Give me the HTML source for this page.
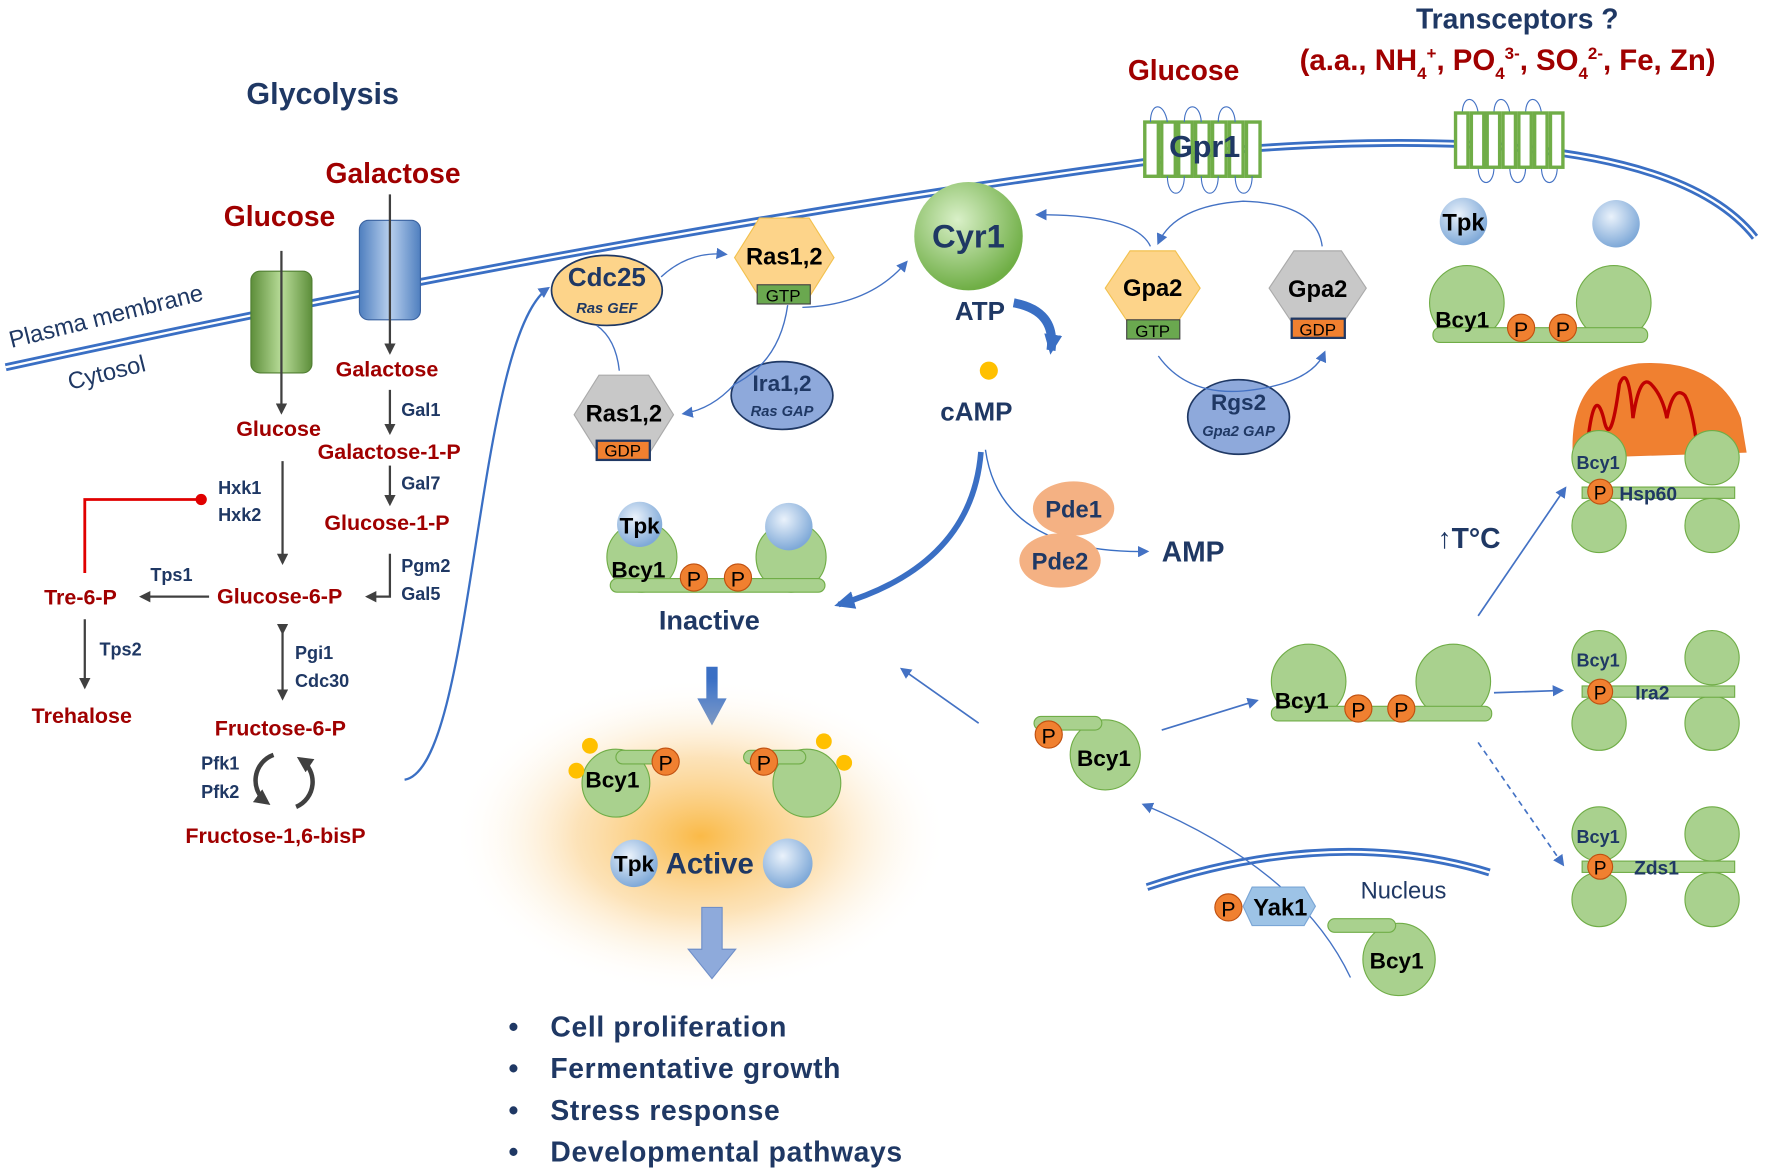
<!DOCTYPE html>
<html><head><meta charset="utf-8"><style>
html,body{margin:0;padding:0;background:#fff;}
svg{display:block;font-family:"Liberation Sans",sans-serif;font-weight:bold;}
</style></head><body>
<svg width="1772" height="1173" viewBox="0 0 1568 1038" xmlns="http://www.w3.org/2000/svg">
<defs>
<radialGradient id="glow" cx="50%" cy="50%" r="50%"><stop offset="0" stop-color="#f9b233" stop-opacity="0.9"/><stop offset="0.5" stop-color="#fbd08a" stop-opacity="0.6"/><stop offset="1" stop-color="#fff" stop-opacity="0"/></radialGradient>
<radialGradient id="ball" cx="40%" cy="35%" r="65%"><stop offset="0" stop-color="#eaf2fb"/><stop offset="1" stop-color="#7fa9d8"/></radialGradient>
<radialGradient id="cyr" cx="40%" cy="35%" r="65%"><stop offset="0" stop-color="#d9f0c8"/><stop offset="1" stop-color="#6fae45"/></radialGradient>
<linearGradient id="gch" x1="0" x2="1"><stop offset="0" stop-color="#5d8e3a"/><stop offset="0.5" stop-color="#b8dc98"/><stop offset="1" stop-color="#5d8e3a"/></linearGradient>
<linearGradient id="bch" x1="0" x2="1"><stop offset="0" stop-color="#4f7fbf"/><stop offset="0.5" stop-color="#b8d0ee"/><stop offset="1" stop-color="#4f7fbf"/></linearGradient>
<marker id="a" markerUnits="userSpaceOnUse" markerWidth="10" markerHeight="10" refX="8" refY="5" orient="auto"><path d="M0,0 L10,5 L0,10z" fill="#4472c4"/></marker>
<marker id="k" markerUnits="userSpaceOnUse" markerWidth="10" markerHeight="10" refX="8" refY="5" orient="auto"><path d="M0,0 L10,5 L0,10z" fill="#404040"/></marker>
<marker id="big" markerUnits="userSpaceOnUse" markerWidth="20" markerHeight="20" refX="14" refY="10" orient="auto"><path d="M0,2 L18,10 L0,18z" fill="#3a6fc4"/></marker>
<marker id="bk" markerUnits="userSpaceOnUse" markerWidth="14" markerHeight="14" refX="10" refY="7" orient="auto"><path d="M0,0 L14,7 L0,14z" fill="#404040"/></marker>
</defs>

<path d="M5,325 Q600,195 1100,132 Q1470,105 1553,210" fill="none" stroke="#3a6fc4" stroke-width="7"/>
<path d="M5,325 Q600,195 1100,132 Q1470,105 1553,210" fill="none" stroke="#fff" stroke-width="2"/>
<text x="10" y="308" font-size="21" fill="#1f3864" font-weight="normal" transform="rotate(-14 10 308)">Plasma membrane</text>
<text x="62" y="345" font-size="21" fill="#1f3864" font-weight="normal" transform="rotate(-14 62 345)">Cytosol</text>

<text x="218" y="92" font-size="27" fill="#1f3864">Glycolysis</text>
<text x="288" y="162" font-size="25" fill="#a00000">Galactose</text>
<text x="198" y="200" font-size="25" fill="#a00000">Glucose</text>
<rect x="222" y="240" width="54" height="90" rx="8" fill="url(#gch)" stroke="#507e32"/>
<rect x="318" y="195" width="54" height="88" rx="8" fill="url(#bch)" stroke="#3a62a0"/>
<line x1="249" y1="222" x2="249" y2="365" stroke="#404040" stroke-width="2" marker-end="url(#k)"/>
<line x1="345" y1="172" x2="345" y2="312" stroke="#404040" stroke-width="2" marker-end="url(#k)"/>
<g font-size="19" fill="#a00000">
<text x="297" y="333">Galactose</text>
<text x="209" y="386">Glucose</text>
<text x="281" y="406">Galactose-1-P</text>
<text x="287" y="469">Glucose-1-P</text>
<text x="192" y="534">Glucose-6-P</text>
<text x="39" y="535">Tre-6-P</text>
<text x="28" y="640">Trehalose</text>
<text x="190" y="651">Fructose-6-P</text>
<text x="164" y="746">Fructose-1,6-bisP</text>
</g>
<g font-size="16" fill="#1f3864">
<text x="355" y="368">Gal1</text>
<text x="355" y="433">Gal7</text>
<text x="355" y="506">Pgm2</text>
<text x="355" y="531">Gal5</text>
<text x="193" y="437">Hxk1</text>
<text x="193" y="461">Hxk2</text>
<text x="133" y="514">Tps1</text>
<text x="88" y="580">Tps2</text>
<text x="261" y="583">Pgi1</text>
<text x="261" y="608">Cdc30</text>
<text x="178" y="681">Pfk1</text>
<text x="178" y="706">Pfk2</text>
</g>
<g stroke="#404040" stroke-width="2" fill="none">
<line x1="345" y1="345" x2="345" y2="383" marker-end="url(#k)"/>
<line x1="345" y1="412" x2="345" y2="446" marker-end="url(#k)"/>
<path d="M345,490 L345,528 L325,528" marker-end="url(#k)"/>
<line x1="250" y1="408" x2="250" y2="498" marker-end="url(#k)"/>
<line x1="185" y1="528" x2="125" y2="528" marker-end="url(#k)"/>
<line x1="75" y1="548" x2="75" y2="608" marker-end="url(#k)"/>
<line x1="250" y1="560" x2="250" y2="618" marker-end="url(#k)" marker-start="url(#k)"/>
<path d="M242,668 A24,24 0 0 0 236,710" stroke-width="4" marker-end="url(#bk)"/>
<path d="M262,714 A24,24 0 0 0 266,672" stroke-width="4" marker-end="url(#bk)"/>
</g>
<path d="M75,507 L75,442 L175,442" stroke="#e00000" stroke-width="2.5" fill="none"/>
<circle cx="178" cy="442" r="5" fill="#e00000"/>
<path d="M358,690 C420,680 420,300 485,255" stroke="#3a6fc4" stroke-width="2" fill="none" marker-end="url(#a)"/>

<ellipse cx="537" cy="257" rx="49" ry="31" fill="#fdd48a" stroke="#1f3864" stroke-width="1.5"/>
<text x="537" y="253" font-size="23" fill="#1f3864" text-anchor="middle">Cdc25</text>
<text x="537" y="277" font-size="13" fill="#1f3864" text-anchor="middle" font-style="italic">Ras GEF</text>
<polygon points="672,193 716,193 738,228 716,263 672,263 650,228" fill="#fdd48a" stroke="#f2c14e"/>
<text x="694" y="234" font-size="21" fill="#000" text-anchor="middle">Ras1,2</text>
<rect x="670" y="252" width="47" height="17" fill="#6aa84f" stroke="#404040"/>
<text x="693" y="267" font-size="15" fill="#000" text-anchor="middle" font-weight="normal">GTP</text>
<polygon points="530,332 574,332 596,367 574,402 530,402 508,367" fill="#c8c8c8" stroke="#aaa"/>
<text x="552" y="373" font-size="21" fill="#000" text-anchor="middle">Ras1,2</text>
<rect x="528" y="390" width="47" height="17" fill="#f08030" stroke="#1f3864" stroke-width="2"/>
<text x="551" y="404" font-size="15" fill="#000" text-anchor="middle" font-weight="normal">GDP</text>
<ellipse cx="692" cy="350" rx="45" ry="30" fill="#8ea9db" stroke="#1f3864" stroke-width="1.5"/>
<text x="692" y="346" font-size="20" fill="#1f3864" text-anchor="middle">Ira1,2</text>
<text x="692" y="368" font-size="13" fill="#1f3864" text-anchor="middle" font-style="italic">Ras GAP</text>
<g stroke="#4472c4" stroke-width="1.2" fill="none">
<path d="M585,245 Q610,222 642,225" marker-end="url(#a)"/>
<path d="M548,328 Q545,300 528,288"/>
<path d="M697,270 Q690,320 650,340 Q630,362 605,366" marker-end="url(#a)"/>
<path d="M710,272 Q770,270 802,232" marker-end="url(#a)"/>
</g>

<circle cx="857" cy="209" r="48" fill="url(#cyr)"/>
<text x="857" y="219" font-size="29" fill="#1f3864" text-anchor="middle">Cyr1</text>
<text x="845" y="283" font-size="23" fill="#1f3864">ATP</text>
<path d="M897,268 Q935,275 930,310" stroke="#3a6fc4" stroke-width="8" fill="none" marker-end="url(#big)"/>
<circle cx="875" cy="328" r="8" fill="#ffc000"/>
<text x="832" y="372" font-size="23" fill="#1f3864">cAMP</text>
<path d="M868,400 Q860,500 742,535" stroke="#3a6fc4" stroke-width="5" fill="none" marker-end="url(#big)"/>
<path d="M872,398 Q885,490 1015,488" stroke="#3a6fc4" stroke-width="1.2" fill="none" marker-end="url(#a)"/>
<ellipse cx="950" cy="450" rx="36" ry="24" fill="#f4b183"/>
<text x="950" y="458" font-size="21" fill="#1f3864" text-anchor="middle">Pde1</text>
<ellipse cx="938" cy="496" rx="36" ry="24" fill="#f4b183"/>
<text x="938" y="504" font-size="21" fill="#1f3864" text-anchor="middle">Pde2</text>
<text x="1028" y="497" font-size="25" fill="#1f3864">AMP</text>

<text x="998" y="71" font-size="25" fill="#a00000">Glucose</text>
<g fill="#fff" stroke="#70ad47" stroke-width="3">
<rect x="1013" y="108" width="12" height="48"/><rect x="1028" y="108" width="12" height="48"/><rect x="1043" y="108" width="12" height="48"/><rect x="1058" y="108" width="12" height="48"/><rect x="1073" y="108" width="12" height="48"/><rect x="1088" y="108" width="12" height="48"/><rect x="1103" y="108" width="12" height="48"/>
</g>
<text x="1066" y="139" font-size="27" fill="#1f3864" text-anchor="middle">Gpr1</text>
<g fill="none" stroke="#4472c4" stroke-width="1">
<path d="M1018,108 C1018,90 1030,90 1033,108 M1048,108 C1048,90 1062,90 1063,108 M1078,108 C1078,90 1092,90 1093,108 M1033,156 C1033,176 1048,176 1048,156 M1063,156 C1063,176 1078,176 1078,156 M1093,156 C1093,176 1108,176 1108,156"/>
<path d="M1294,100 C1294,84 1306,84 1308,100 M1322,100 C1322,84 1334,84 1336,100 M1350,100 C1350,84 1362,84 1364,100 M1308,148 C1308,166 1322,166 1322,148 M1336,148 C1336,166 1350,166 1350,148 M1364,148 C1364,166 1378,166 1378,148"/>
</g>
<polygon points="1000,222 1040,222 1062,255 1040,288 1000,288 978,255" fill="#fdd48a" stroke="#f2c14e"/>
<text x="1020" y="262" font-size="21" fill="#000" text-anchor="middle">Gpa2</text>
<rect x="997" y="283" width="47" height="17" fill="#6aa84f" stroke="#404040"/>
<text x="1020" y="298" font-size="15" fill="#000" text-anchor="middle" font-weight="normal">GTP</text>
<polygon points="1145,222 1187,222 1209,255 1187,288 1145,288 1123,255" fill="#c8c8c8" stroke="#aaa"/>
<text x="1166" y="263" font-size="21" fill="#000" text-anchor="middle">Gpa2</text>
<rect x="1143" y="282" width="47" height="17" fill="#f08030" stroke="#1f3864" stroke-width="2"/>
<text x="1166" y="297" font-size="15" fill="#000" text-anchor="middle" font-weight="normal">GDP</text>
<ellipse cx="1096" cy="369" rx="45" ry="33" fill="#8ea9db" stroke="#1f3864" stroke-width="1.5"/>
<text x="1096" y="363" font-size="20" fill="#1f3864" text-anchor="middle">Rgs2</text>
<text x="1096" y="386" font-size="13" fill="#1f3864" text-anchor="middle" font-style="italic">Gpa2 GAP</text>
<g stroke="#4472c4" stroke-width="1.2" fill="none">
<path d="M1018,218 Q1005,190 918,190" marker-end="url(#a)"/>
<path d="M1170,218 Q1165,180 1100,178 Q1040,182 1025,215" marker-end="url(#a)"/>
<path d="M1025,315 Q1050,350 1100,346 Q1160,340 1172,312" marker-end="url(#a)"/>
</g>

<text x="1253" y="25" font-size="25" fill="#1f3864">Transceptors ?</text>
<text x="1150" y="62" font-size="26" fill="#a00000">(a.a., NH<tspan font-size="15" dy="8">4</tspan><tspan font-size="15" dy="-18">+</tspan><tspan dy="10">, PO</tspan><tspan font-size="15" dy="8">4</tspan><tspan font-size="15" dy="-18">3-</tspan><tspan dy="10">, SO</tspan><tspan font-size="15" dy="8">4</tspan><tspan font-size="15" dy="-18">2-</tspan><tspan dy="10">, Fe, Zn)</tspan></text>
<g fill="#fff" stroke="#70ad47" stroke-width="3">
<rect x="1288" y="100" width="11" height="48"/><rect x="1302" y="100" width="11" height="48"/><rect x="1316" y="100" width="11" height="48"/><rect x="1330" y="100" width="11" height="48"/><rect x="1344" y="100" width="11" height="48"/><rect x="1358" y="100" width="11" height="48"/><rect x="1372" y="100" width="11" height="48"/>
</g>

<g>
<circle cx="1298" cy="268" r="33" fill="#a9d18e" stroke="#70ad47"/>
<circle cx="1428" cy="268" r="33" fill="#a9d18e" stroke="#70ad47"/>
<rect x="1268" y="290" width="190" height="13" rx="6" fill="#a9d18e" stroke="#70ad47"/>
<circle cx="1295" cy="196" r="21" fill="url(#ball)"/><text x="1295" y="204" font-size="21" fill="#000" text-anchor="middle">Tpk</text>
<circle cx="1430" cy="198" r="21" fill="url(#ball)"/>
<text x="1270" y="290" font-size="20" fill="#000">Bcy1</text>
<circle cx="1346" cy="290" r="12" fill="#f08030" stroke="#c05010"/><text x="1346" y="298" font-size="19" fill="#000" text-anchor="middle" font-weight="normal">P</text>
<circle cx="1383" cy="290" r="12" fill="#f08030" stroke="#c05010"/><text x="1383" y="298" font-size="19" fill="#000" text-anchor="middle" font-weight="normal">P</text>
</g>

<circle cx="568" cy="493" r="31" fill="#a9d18e" stroke="#70ad47"/>
<circle cx="700" cy="493" r="31" fill="#a9d18e" stroke="#70ad47"/>
<rect x="540" y="512" width="190" height="12" rx="6" fill="#a9d18e" stroke="#70ad47"/>
<circle cx="566" cy="464" r="20" fill="url(#ball)"/><text x="566" y="472" font-size="20" fill="#000" text-anchor="middle">Tpk</text>
<circle cx="698" cy="466" r="21" fill="url(#ball)"/>
<text x="541" y="511" font-size="20" fill="#000">Bcy1</text>
<circle cx="614" cy="511" r="12" fill="#f08030" stroke="#c05010"/><text x="614" y="519" font-size="19" fill="#000" text-anchor="middle" font-weight="normal">P</text>
<circle cx="653" cy="511" r="12" fill="#f08030" stroke="#c05010"/><text x="653" y="519" font-size="19" fill="#000" text-anchor="middle" font-weight="normal">P</text>
<text x="583" y="557" font-size="24" fill="#1f3864">Inactive</text>
<polygon points="625,590 635,590 635,618 643,618 630,642 617,618 625,618" fill="#3a6fc4"/>

<ellipse cx="620" cy="740" rx="220" ry="140" fill="url(#glow)"/>
<circle cx="545" cy="693" r="30" fill="#a9d18e" stroke="#70ad47"/>
<rect x="545" y="664" width="50" height="12" rx="6" fill="#a9d18e" stroke="#70ad47"/>
<circle cx="522" cy="660" r="7" fill="#ffc000"/><circle cx="510" cy="682" r="7" fill="#ffc000"/>
<text x="518" y="697" font-size="20" fill="#000">Bcy1</text>
<circle cx="589" cy="674" r="12" fill="#f08030" stroke="#c05010"/><text x="589" y="682" font-size="19" fill="#000" text-anchor="middle" font-weight="normal">P</text>
<circle cx="714" cy="693" r="30" fill="#a9d18e" stroke="#70ad47"/>
<rect x="658" y="664" width="55" height="12" rx="6" fill="#a9d18e" stroke="#70ad47"/>
<circle cx="729" cy="656" r="7" fill="#ffc000"/><circle cx="747" cy="675" r="7" fill="#ffc000"/>
<circle cx="676" cy="674" r="12" fill="#f08030" stroke="#c05010"/><text x="676" y="682" font-size="19" fill="#000" text-anchor="middle" font-weight="normal">P</text>
<circle cx="561" cy="764" r="21" fill="url(#ball)"/><text x="561" y="771" font-size="20" fill="#000" text-anchor="middle">Tpk</text>
<text x="589" y="773" font-size="26" fill="#1f3864">Active</text>
<circle cx="697" cy="764" r="22" fill="url(#ball)"/>
<polygon points="621,803 639,803 639,840 651,840 630,866 609,840 621,840" fill="#8eaadb" stroke="#6f8fc9"/>
<g font-size="25" fill="#1f3864" letter-spacing="0.6">
<text x="450" y="917">•</text><text x="487" y="917">Cell proliferation</text>
<text x="450" y="954">•</text><text x="487" y="954">Fermentative growth</text>
<text x="450" y="991">•</text><text x="487" y="991">Stress response</text>
<text x="450" y="1028">•</text><text x="487" y="1028">Developmental pathways</text>
</g>

<line x1="866" y1="640" x2="798" y2="592" stroke="#4472c4" stroke-width="1.5" marker-end="url(#a)"/>
<circle cx="978" cy="668" r="31" fill="#a9d18e" stroke="#70ad47"/>
<rect x="915" y="634" width="60" height="12" rx="6" fill="#a9d18e" stroke="#70ad47"/>
<circle cx="928" cy="650" r="12" fill="#f08030" stroke="#c05010"/><text x="928" y="658" font-size="19" fill="#000" text-anchor="middle" font-weight="normal">P</text>
<text x="953" y="678" font-size="20" fill="#000">Bcy1</text>
<line x1="1028" y1="646" x2="1112" y2="620" stroke="#4472c4" stroke-width="1.5" marker-end="url(#a)"/>
<circle cx="1158" cy="603" r="33" fill="#a9d18e" stroke="#70ad47"/>
<circle cx="1286" cy="603" r="33" fill="#a9d18e" stroke="#70ad47"/>
<rect x="1125" y="625" width="195" height="13" rx="6" fill="#a9d18e" stroke="#70ad47"/>
<text x="1128" y="627" font-size="20" fill="#000">Bcy1</text>
<circle cx="1202" cy="627" r="12" fill="#f08030" stroke="#c05010"/><text x="1202" y="635" font-size="19" fill="#000" text-anchor="middle" font-weight="normal">P</text>
<circle cx="1240" cy="627" r="12" fill="#f08030" stroke="#c05010"/><text x="1240" y="635" font-size="19" fill="#000" text-anchor="middle" font-weight="normal">P</text>
<line x1="1308" y1="545" x2="1385" y2="432" stroke="#4472c4" stroke-width="1.5" marker-end="url(#a)"/>
<text x="1272" y="485" font-size="25" fill="#1f3864">↑T°C</text>
<line x1="1322" y1="613" x2="1382" y2="611" stroke="#4472c4" stroke-width="1.5" marker-end="url(#a)"/>
<line x1="1308" y1="657" x2="1383" y2="765" stroke="#4472c4" stroke-width="1.5" stroke-dasharray="5,4" marker-end="url(#a)"/>

<path d="M1392,395 Q1392,330 1450,322 Q1520,318 1540,370 L1545,400 L1392,405z" fill="#f08030" stroke="#ed7d31"/>
<path d="M1405,390 q6,-50 14,-20 q6,30 14,-30 q8,-20 12,30 q6,-40 16,-30 q10,10 14,30 q6,-30 16,-20 q6,10 10,40" fill="none" stroke="#c00000" stroke-width="3"/>

<g>
<circle cx="1415" cy="405" r="24" fill="#a9d18e" stroke="#70ad47"/><circle cx="1515" cy="405" r="24" fill="#a9d18e" stroke="#70ad47"/>
<circle cx="1415" cy="465" r="24" fill="#a9d18e" stroke="#70ad47"/><circle cx="1515" cy="465" r="24" fill="#a9d18e" stroke="#70ad47"/>
<rect x="1400" y="431" width="135" height="10" fill="#a9d18e" stroke="#70ad47"/>
<text x="1395" y="415" font-size="16" fill="#1f3864">Bcy1</text>
<circle cx="1416" cy="435" r="11" fill="#f08030" stroke="#c05010"/><text x="1416" y="442" font-size="17" fill="#000" text-anchor="middle" font-weight="normal">P</text>
<text x="1433" y="443" font-size="17" fill="#1f3864">Hsp60</text>
</g>
<g>
<circle cx="1415" cy="582" r="24" fill="#a9d18e" stroke="#70ad47"/><circle cx="1515" cy="582" r="24" fill="#a9d18e" stroke="#70ad47"/>
<circle cx="1415" cy="640" r="24" fill="#a9d18e" stroke="#70ad47"/><circle cx="1515" cy="640" r="24" fill="#a9d18e" stroke="#70ad47"/>
<rect x="1400" y="607" width="135" height="10" fill="#a9d18e" stroke="#70ad47"/>
<text x="1395" y="590" font-size="16" fill="#1f3864">Bcy1</text>
<circle cx="1416" cy="612" r="11" fill="#f08030" stroke="#c05010"/><text x="1416" y="619" font-size="17" fill="#000" text-anchor="middle" font-weight="normal">P</text>
<text x="1447" y="619" font-size="17" fill="#1f3864">Ira2</text>
</g>
<g>
<circle cx="1415" cy="738" r="24" fill="#a9d18e" stroke="#70ad47"/><circle cx="1515" cy="738" r="24" fill="#a9d18e" stroke="#70ad47"/>
<circle cx="1415" cy="796" r="24" fill="#a9d18e" stroke="#70ad47"/><circle cx="1515" cy="796" r="24" fill="#a9d18e" stroke="#70ad47"/>
<rect x="1400" y="762" width="135" height="10" fill="#a9d18e" stroke="#70ad47"/>
<text x="1395" y="746" font-size="16" fill="#1f3864">Bcy1</text>
<circle cx="1416" cy="767" r="11" fill="#f08030" stroke="#c05010"/><text x="1416" y="774" font-size="17" fill="#000" text-anchor="middle" font-weight="normal">P</text>
<text x="1446" y="774" font-size="17" fill="#1f3864">Zds1</text>
</g>

<path d="M1015,785 Q1180,730 1318,772" fill="none" stroke="#3a6fc4" stroke-width="7"/>
<path d="M1015,785 Q1180,730 1318,772" fill="none" stroke="#fff" stroke-width="2"/>
<text x="1204" y="795" font-size="21" fill="#1f3864" font-weight="normal">Nucleus</text>
<path d="M1195,865 Q1150,770 1012,712" fill="none" stroke="#4472c4" stroke-width="1.2" marker-end="url(#a)"/>
<circle cx="1087" cy="803" r="12" fill="#f08030" stroke="#c05010"/><text x="1087" y="811" font-size="19" fill="#000" text-anchor="middle" font-weight="normal">P</text>
<polygon points="1108,785 1154,785 1164,802 1154,819 1108,819 1100,802" fill="#9dc3e6" stroke="#7aa6d6"/>
<text x="1109" y="810" font-size="21" fill="#000">Yak1</text>
<circle cx="1238" cy="849" r="32" fill="#a9d18e" stroke="#70ad47"/>
<rect x="1175" y="813" width="60" height="12" rx="6" fill="#a9d18e" stroke="#70ad47"/>
<text x="1212" y="857" font-size="20" fill="#000">Bcy1</text>
</svg>
</body></html>
